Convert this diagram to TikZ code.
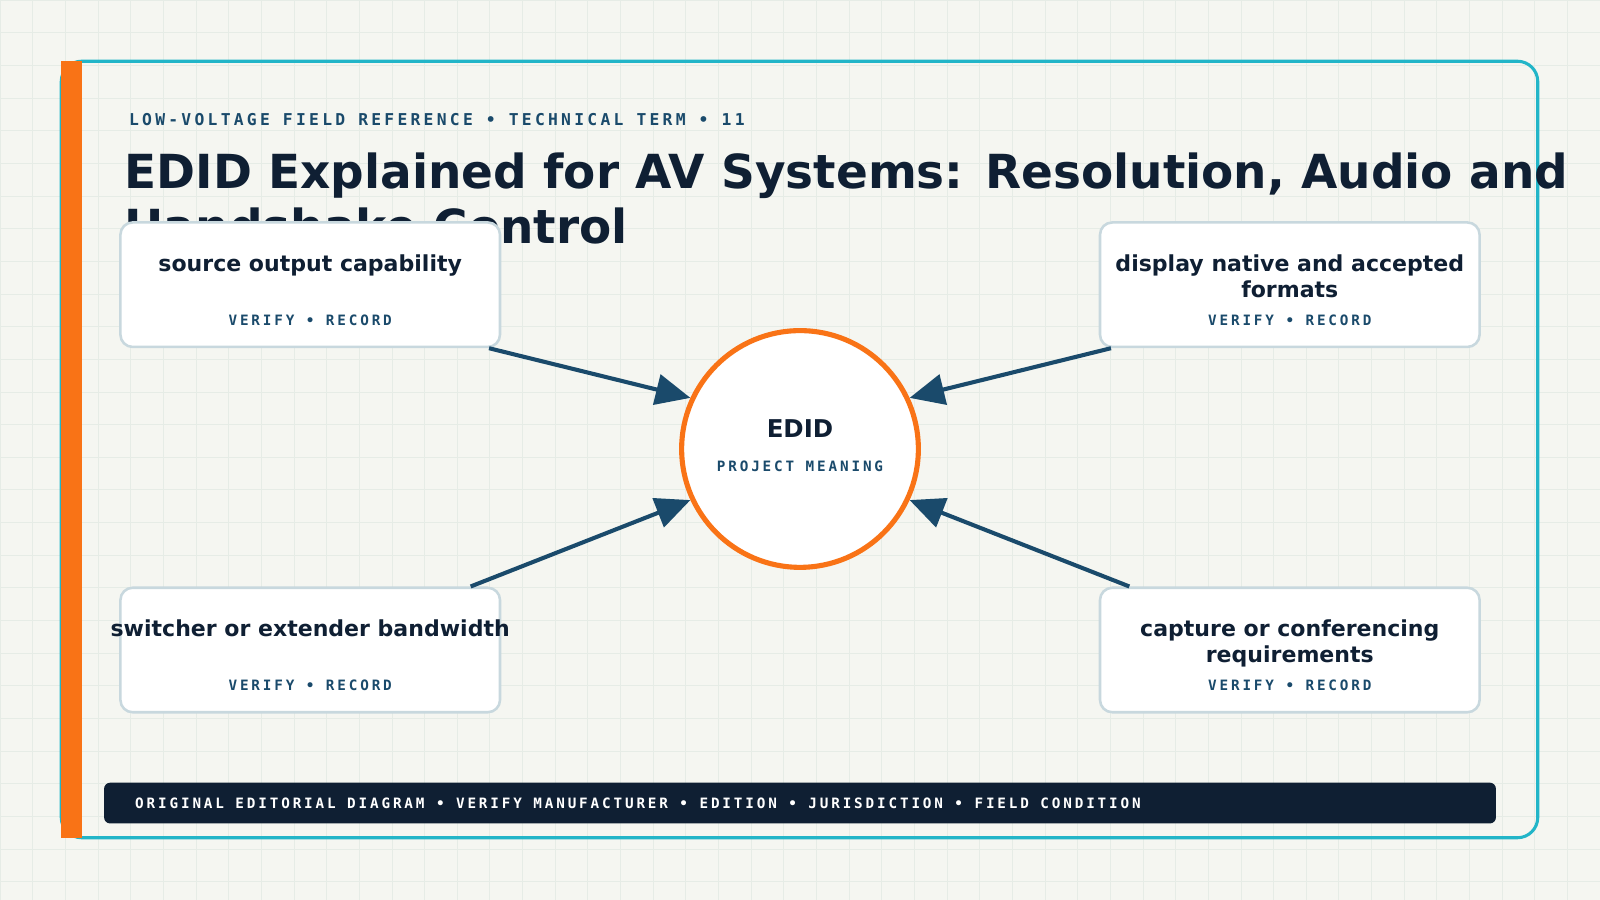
\documentclass[tikz,border=0pt]{standalone}
\usepackage{fontspec}
\setmainfont{DejaVu Sans}
\newfontfamily\labfont{DejaVu Sans Mono}[LetterSpace=20]
\usetikzlibrary{arrows.meta,positioning}
\definecolor{paper}{HTML}{F5F6F1}
\definecolor{gridc}{HTML}{E6ECE6}
\definecolor{teal}{HTML}{22B5C8}
\definecolor{orng}{HTML}{F97316}
\definecolor{navy}{HTML}{0F1F33}
\definecolor{ink}{HTML}{1A4A6B}
\definecolor{edge}{HTML}{C8D8DE}
\tikzset{
  box/.style={draw=edge, line width=2.5pt, fill=white, rounded corners=12pt,
    minimum width=372pt, minimum height=122pt, inner sep=0pt},
  boxtext/.style={text=navy, font=\fontsize{21.6}{26}\selectfont\bfseries,
    align=center, anchor=north},
  tag/.style={text=ink, font=\labfont\fontsize{14}{16}\selectfont\bfseries},
  link/.style={draw=ink, line width=4pt, -{Triangle[length=34pt,width=30pt]}}
}
\begin{document}
\begin{tikzpicture}[x=1pt,y=-1pt]
  \fill[paper] (0,0) rectangle (1568,882);
  \useasboundingbox (0,0) rectangle (1568,882);
  % grid
  \foreach \gx in {0,32,...,1568} \draw[gridc, line width=0.6pt] (\gx,0) -- (\gx,882);
  \foreach \gy in {0,32,...,882} \draw[gridc, line width=0.6pt] (0,\gy) -- (1568,\gy);
  % frame
  \draw[teal, line width=3pt, rounded corners=20pt] (60,60) rectangle (1507,821);
  \fill[orng] (60,60) rectangle (80,821);
  % heading
  \node[tag, anchor=west, text=ink, font=\labfont\fontsize{16}{18}\selectfont\bfseries]
    (kicker) at (123,117) {LOW-VOLTAGE FIELD REFERENCE • TECHNICAL TERM • 11};
  \node[anchor=north west, text=navy, font=\fontsize{46}{53}\selectfont\bfseries,
    align=left, inner sep=0pt] (title) at (122,150)
    {EDID Explained for AV Systems: Resolution, Audio and\\Handshake Control};
  % cards
  \node[box] (src) at (304,279) {};
  \node[box] (dsp) at (1264,279) {};
  \node[box] (swx) at (304,637) {};
  \node[box] (cap) at (1264,637) {};
  \foreach \b/\t in {src/source output capability,
                     dsp/display native and accepted\\formats,
                     swx/switcher or extender bandwidth,
                     cap/capture or conferencing\\requirements} {
    \node[boxtext] at ([yshift=-29pt]\b.north) {\t};
    \node[tag] at ([yshift=-97pt]\b.north) {VERIFY • RECORD};
  }
  % hub
  \node[circle, draw=orng, line width=5pt, fill=white, minimum size=232pt] (hub) at (784,440) {};
  \node[text=navy, font=\fontsize{24}{28}\selectfont\bfseries] (term) at (784,420) {EDID};
  \node[tag] (role) at (784,457) {PROJECT MEANING};
  % links
  \draw[link] ([xshift=-12pt]src.south east) -- (hub.155);
  \draw[link] ([xshift=12pt]dsp.south west) -- (hub.25);
  \draw[link] ([xshift=-30pt]swx.north east) -- (hub.205);
  \draw[link] ([xshift=30pt]cap.north west) -- (hub.-25);
  % footer
  \fill[navy, rounded corners=6pt] (102,767) rectangle (1466,807);
  \node[tag, anchor=west, text=white] (foot) at (129,787)
    {ORIGINAL EDITORIAL DIAGRAM • VERIFY MANUFACTURER • EDITION • JURISDICTION • FIELD CONDITION};
\end{tikzpicture}
\end{document}
